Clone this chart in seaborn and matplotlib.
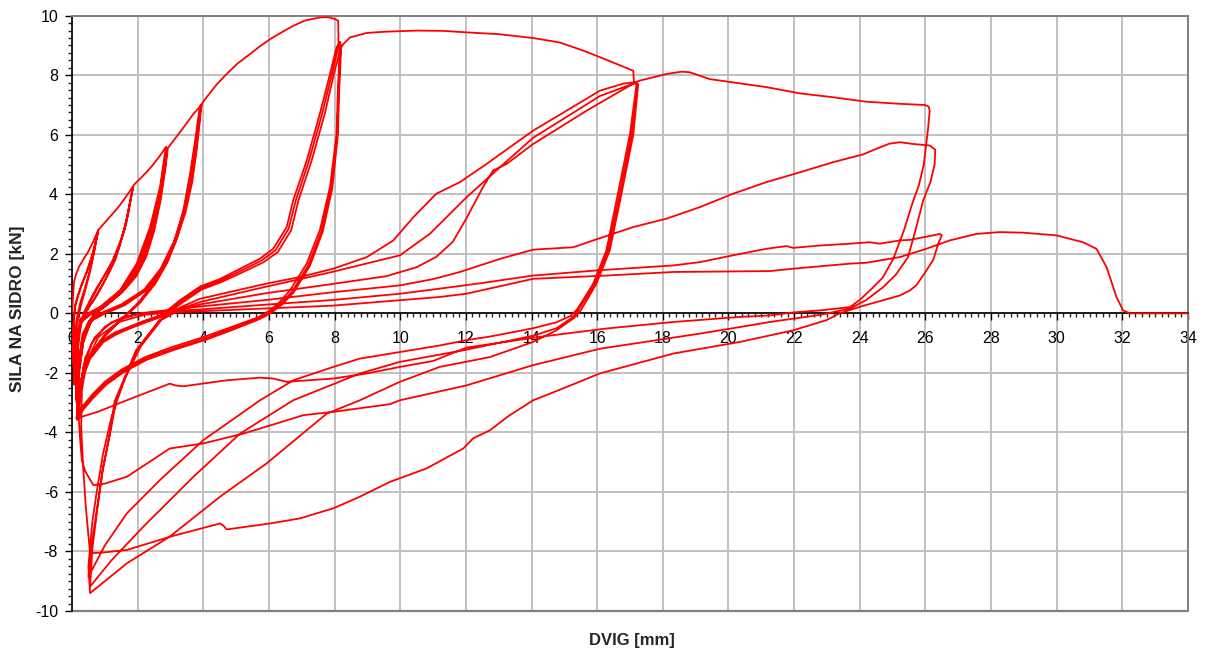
import matplotlib
matplotlib.use("Agg")
import matplotlib.pyplot as plt
import pandas as pd
import seaborn as sns
from matplotlib.ticker import MultipleLocator

# Anchor pull-out test: force vs. lift, recorded as a continuous trace of
# (displacement [mm], force [kN]) points, grouped by loading stage.

stage_08 = [
    (0.00, 0.00), (0.03, 0.50), (0.06, 1.05), (0.12, 1.30), (0.22, 1.58), (0.35, 1.82),
    (0.50, 2.08), (0.65, 2.42), (0.80, 2.80),
    (0.74, 2.50), (0.62, 1.95), (0.45, 1.40), (0.30, 1.00), (0.18, 0.60), (0.10, 0.30),
    (0.06, -0.20), (0.04, -0.60), (0.04, -1.20), (0.05, -1.70),
    (0.08, -0.90), (0.14, -0.20), (0.25, 0.35), (0.38, 0.80), (0.52, 1.35), (0.66, 2.00), (0.79, 2.75),
    (0.73, 2.45), (0.60, 1.90), (0.44, 1.35), (0.28, 0.90), (0.16, 0.50), (0.09, 0.20),
    (0.05, -0.30), (0.04, -1.00), (0.05, -1.80),
    (0.09, -1.00), (0.16, -0.30), (0.28, 0.30), (0.42, 0.85), (0.56, 1.45), (0.68, 2.10), (0.80, 2.80),
]

stage_19 = [
    (1.00, 3.05), (1.20, 3.30), (1.40, 3.55), (1.60, 3.85), (1.85, 4.25),
    (1.78, 3.80), (1.62, 2.90), (1.45, 2.25), (1.32, 1.80), (1.10, 1.30), (0.91, 0.90), (0.70, 0.50),
    (0.51, 0.20), (0.35, -0.10), (0.20, -0.50), (0.10, -1.00), (0.07, -1.70), (0.06, -2.30),
    (0.10, -1.40), (0.20, -0.60), (0.35, 0.00), (0.55, 0.45), (0.75, 0.85), (0.95, 1.20), (1.20, 1.65),
    (1.45, 2.30), (1.65, 3.00), (1.85, 4.20),
    (1.77, 3.75), (1.60, 2.85), (1.42, 2.20), (1.28, 1.75), (1.06, 1.25), (0.87, 0.85), (0.66, 0.45),
    (0.48, 0.15), (0.32, -0.15), (0.18, -0.55), (0.10, -1.10), (0.07, -1.80), (0.07, -2.40),
    (0.11, -1.50), (0.22, -0.60), (0.38, 0.00), (0.58, 0.45), (0.80, 0.90), (1.00, 1.30), (1.25, 1.80),
    (1.50, 2.50), (1.70, 3.30), (1.87, 4.30),
]

stage_29 = [
    (2.05, 4.50), (2.25, 4.72), (2.45, 4.97), (2.65, 5.25), (2.87, 5.60),
    (2.83, 5.36), (2.68, 4.24), (2.38, 2.90), (1.97, 1.67), (1.46, 0.77), (0.85, 0.21), (0.45, -0.02),
    (0.24, -0.20), (0.16, -1.00), (0.13, -2.00), (0.12, -2.80),
    (0.18, -1.80), (0.30, -0.90), (0.50, -0.30), (0.80, 0.15), (1.20, 0.50), (1.60, 0.90), (1.90, 1.30),
    (2.20, 1.95), (2.45, 2.80), (2.65, 3.80), (2.80, 4.80), (2.88, 5.55),
    (2.84, 5.30), (2.70, 4.20), (2.40, 2.85), (2.00, 1.62), (1.50, 0.74), (0.90, 0.20), (0.50, -0.04),
    (0.26, -0.25), (0.17, -1.10), (0.14, -2.10), (0.13, -2.90),
    (0.19, -1.90), (0.32, -0.95), (0.52, -0.32), (0.82, 0.13), (1.22, 0.48), (1.62, 0.88), (1.93, 1.28),
    (2.23, 1.92), (2.48, 2.78), (2.68, 3.80), (2.83, 4.85), (2.90, 5.50),
    (2.86, 5.30), (2.72, 4.20), (2.43, 2.85), (2.03, 1.60), (1.55, 0.72), (0.95, 0.18), (0.55, -0.05),
    (0.28, -0.30), (0.18, -1.20), (0.15, -2.20), (0.14, -3.00),
    (0.20, -2.00), (0.34, -1.00), (0.55, -0.35), (0.85, 0.10), (1.25, 0.45), (1.65, 0.85), (1.96, 1.25),
    (2.26, 1.90), (2.50, 2.75), (2.70, 3.80), (2.85, 4.90), (2.92, 5.55),
]

stage_39 = [
    (3.09, 5.80), (3.30, 6.10), (3.50, 6.40), (3.70, 6.70), (3.90, 6.95),
    (3.86, 6.50), (3.75, 5.50), (3.60, 4.40), (3.40, 3.40), (3.10, 2.40), (2.70, 1.50), (2.20, 0.80),
    (1.50, 0.30), (0.90, 0.02), (0.55, -0.20), (0.32, -0.70), (0.20, -1.80), (0.16, -2.90), (0.15, -3.40),
    (0.20, -2.90), (0.30, -2.14), (0.51, -1.47), (0.91, -0.85), (1.40, -0.30), (1.97, 0.30), (2.45, 0.95),
    (2.85, 1.65), (3.15, 2.50), (3.40, 3.50), (3.60, 4.70), (3.75, 5.80), (3.85, 6.60), (3.92, 7.00),
    (3.88, 6.50), (3.78, 5.50), (3.63, 4.40), (3.43, 3.40), (3.13, 2.40), (2.74, 1.50), (2.25, 0.80),
    (1.55, 0.28), (0.95, 0.00), (0.58, -0.22), (0.34, -0.75), (0.21, -1.90), (0.17, -2.95), (0.15, -3.45),
    (0.21, -2.85), (0.32, -2.05), (0.55, -1.40), (0.95, -0.80), (1.45, -0.25), (2.02, 0.32), (2.50, 0.98),
    (2.88, 1.70), (3.18, 2.55), (3.43, 3.55), (3.63, 4.75), (3.78, 5.85), (3.88, 6.65), (3.94, 7.02),
    (3.90, 6.50), (3.80, 5.50), (3.66, 4.40), (3.46, 3.40), (3.16, 2.40), (2.78, 1.50), (2.30, 0.80),
    (1.60, 0.27), (1.00, -0.01), (0.60, -0.24), (0.36, -0.80), (0.22, -2.00), (0.17, -3.00), (0.15, -3.50),
    (0.22, -2.80), (0.34, -2.00), (0.58, -1.35), (1.00, -0.75), (1.50, -0.22), (2.06, 0.34), (2.54, 1.00),
    (2.92, 1.74), (3.22, 2.60), (3.46, 3.60), (3.66, 4.80), (3.80, 5.90), (3.90, 6.70), (3.96, 7.05),
]

stage_81 = [
    (4.10, 7.26), (4.40, 7.68), (4.71, 8.04), (5.05, 8.40), (5.42, 8.71), (5.70, 8.95), (6.03, 9.21),
    (6.40, 9.45), (6.74, 9.66), (7.10, 9.84), (7.55, 9.94), (7.80, 9.95), (8.01, 9.89), (8.11, 9.83),
    (8.12, 9.05),
    (8.16, 8.94), (8.10, 7.50), (8.06, 6.03), (7.86, 4.24), (7.55, 2.79), (7.15, 1.67), (6.64, 0.77),
    (6.30, 0.35), (6.03, 0.10), (5.80, -0.05), (5.63, -0.15),
    (4.80, -0.48), (4.00, -0.80), (3.00, -1.15), (2.23, -1.47), (1.52, -1.88), (1.00, -2.30), (0.60, -2.75),
    (0.30, -3.15), (0.14, -3.53),
    (0.20, -2.92), (0.30, -2.14), (0.51, -1.47), (0.91, -0.91), (1.30, -0.65), (1.72, -0.46), (2.20, -0.25),
    (2.74, -0.05), (3.30, 0.45), (3.90, 0.90), (4.50, 1.15), (5.02, 1.44), (5.73, 1.84), (6.13, 2.17),
    (6.54, 2.90), (6.74, 3.80), (7.15, 5.13), (7.55, 6.70), (7.86, 8.04), (8.06, 8.94), (8.12, 9.05),
    (8.18, 8.90), (8.12, 7.50), (8.08, 6.00), (7.90, 4.20), (7.60, 2.75), (7.20, 1.62), (6.70, 0.72),
    (6.35, 0.32), (6.08, 0.08), (5.85, -0.07), (5.66, -0.18),
    (4.85, -0.52), (4.05, -0.85), (3.05, -1.20), (2.25, -1.52), (1.55, -1.93), (1.02, -2.35), (0.62, -2.80),
    (0.32, -3.20), (0.15, -3.55),
    (0.21, -2.95), (0.31, -2.18), (0.53, -1.50), (0.93, -0.94), (1.33, -0.67), (1.75, -0.48), (2.24, -0.27),
    (2.78, -0.06), (3.33, 0.40), (3.92, 0.85), (4.52, 1.10), (5.05, 1.38), (5.78, 1.78), (6.20, 2.12),
    (6.60, 2.85), (6.82, 3.80), (7.22, 5.13), (7.62, 6.70), (7.92, 8.04), (8.12, 8.98), (8.17, 9.12),
    (8.20, 8.92), (8.14, 7.50), (8.10, 6.00), (7.93, 4.20), (7.64, 2.75), (7.25, 1.60), (6.75, 0.70),
    (6.40, 0.30), (6.12, 0.06), (5.90, -0.09), (5.70, -0.20),
    (4.90, -0.55), (4.10, -0.88), (3.10, -1.23), (2.28, -1.56), (1.58, -1.97), (1.04, -2.40), (0.64, -2.85),
    (0.33, -3.25), (0.15, -3.58),
    (0.22, -2.98), (0.32, -2.20), (0.55, -1.53), (0.95, -0.97), (1.36, -0.70), (1.78, -0.50), (2.28, -0.29),
    (2.82, -0.08), (3.36, 0.36), (3.95, 0.80), (4.55, 1.05), (5.10, 1.33), (5.84, 1.72), (6.27, 2.06),
    (6.68, 2.80), (6.90, 3.80), (7.30, 5.13), (7.70, 6.70), (7.98, 8.04), (8.18, 8.90), (8.27, 9.05),
    (8.47, 9.27), (8.98, 9.42), (9.50, 9.46), (10.50, 9.50), (11.30, 9.49), (12.02, 9.44), (13.00, 9.38),
    (14.05, 9.25), (14.86, 9.10), (15.57, 8.83), (16.10, 8.60), (16.59, 8.38), (17.10, 8.15), (17.12, 7.76),
]

stage_17 = [
    (17.20, 7.70), (17.00, 6.03), (16.59, 3.79), (16.28, 2.11), (15.88, 1.00), (15.60, 0.50), (15.40, 0.15),
    (15.20, -0.08),
    (14.76, -0.30), (14.05, -0.50), (12.73, -0.78), (12.02, -0.90), (11.20, -1.08), (9.99, -1.30),
    (8.77, -1.52), (7.96, -1.80), (6.74, -2.25), (5.73, -2.92), (4.00, -4.26), (2.68, -5.60), (1.67, -6.72),
    (1.00, -7.80), (0.50, -8.85),
    (0.65, -7.39), (0.80, -6.28), (0.95, -5.16), (1.16, -4.04), (1.35, -2.92), (1.97, -1.24), (2.68, -0.23),
    (3.30, 0.20), (3.90, 0.49), (5.93, 1.00), (6.94, 1.22), (7.96, 1.50), (8.98, 1.89), (9.79, 2.45),
    (10.40, 3.23), (11.10, 4.02), (11.82, 4.41), (12.63, 5.02), (14.05, 6.14), (15.07, 6.81), (16.08, 7.48),
    (16.80, 7.72), (17.15, 7.76),
    (17.22, 7.68), (17.05, 6.00), (16.65, 3.80), (16.33, 2.10), (15.92, 0.98), (15.62, 0.45), (15.42, 0.10),
    (15.27, -0.12),
    (14.76, -0.50), (14.05, -0.75), (12.02, -1.22), (9.99, -1.63), (8.77, -2.02), (6.74, -2.92),
    (5.12, -4.04), (3.70, -5.49), (2.17, -7.17), (1.20, -8.30), (0.55, -9.18),
    (0.62, -7.90), (0.78, -6.50), (0.93, -5.30), (1.14, -4.10), (1.30, -2.95), (1.95, -1.25), (2.65, -0.25),
    (3.30, 0.15), (3.90, 0.38), (5.93, 0.90), (7.96, 1.40), (9.99, 1.95), (10.90, 2.67), (12.02, 3.90),
    (13.04, 4.91), (14.05, 5.90), (15.07, 6.60), (16.08, 7.30), (17.18, 7.75),
    (17.25, 7.70), (17.10, 6.00), (16.70, 3.80), (16.38, 2.10), (15.97, 0.98), (15.68, 0.44), (15.50, 0.10),
    (15.30, -0.15),
    (14.76, -0.57), (14.05, -0.96), (12.73, -1.47), (11.20, -1.80), (9.99, -2.30), (8.77, -2.92),
    (7.76, -3.37), (5.93, -5.04), (4.51, -6.16), (2.98, -7.50), (1.67, -8.40), (0.55, -9.40),
    (0.50, -8.50), (0.62, -7.00), (0.78, -5.80), (0.95, -4.70), (1.20, -3.50), (1.60, -2.20), (2.10, -1.10),
    (2.74, -0.20), (3.30, 0.12), (3.90, 0.30), (5.93, 0.68), (7.96, 0.99), (9.58, 1.25), (10.50, 1.55),
    (11.10, 1.90), (11.60, 2.40), (12.02, 3.20), (12.50, 4.20), (12.83, 4.80), (13.24, 5.02), (14.05, 5.69),
    (15.68, 6.81), (16.60, 7.40), (17.20, 7.78),
]

stage_26 = [
    (17.30, 7.82), (18.11, 8.04), (18.57, 8.12), (18.82, 8.10), (19.43, 7.87), (20.14, 7.76), (21.16, 7.60),
    (22.18, 7.39), (23.19, 7.26), (24.20, 7.11), (25.22, 7.04), (25.98, 7.00), (26.10, 6.95),
    (26.13, 6.80), (26.08, 6.20), (25.95, 5.00), (25.80, 4.30), (25.63, 3.79), (25.35, 2.80), (25.02, 1.83),
    (24.70, 1.20), (24.31, 0.77), (24.00, 0.45), (23.70, 0.21),
    (22.80, 0.10), (21.97, 0.03), (21.26, -0.07), (20.35, -0.12), (18.32, -0.29), (16.28, -0.51),
    (14.25, -0.79), (12.02, -1.15), (11.00, -1.60), (9.99, -1.80), (8.98, -2.02), (7.96, -2.19),
    (6.54, -2.30), (6.13, -2.19), (5.73, -2.16), (4.71, -2.25), (3.39, -2.45), (3.14, -2.42), (2.98, -2.36),
    (1.67, -2.92), (0.80, -3.30), (0.14, -3.53),
    (0.20, -2.80), (0.35, -1.80), (0.60, -1.00), (1.00, -0.45), (1.50, -0.15), (2.20, 0.02), (3.00, 0.12),
    (3.90, 0.23), (5.93, 0.45), (7.96, 0.71), (9.99, 0.94), (11.00, 1.15), (11.82, 1.39), (13.04, 1.83),
    (14.05, 2.14), (15.27, 2.22), (15.88, 2.45), (17.10, 2.90), (18.11, 3.18), (19.13, 3.57), (20.14, 4.02),
    (21.16, 4.41), (22.18, 4.74), (23.19, 5.08), (24.10, 5.34), (24.51, 5.53), (24.90, 5.70), (25.22, 5.75),
    (25.63, 5.69), (26.13, 5.64), (26.30, 5.50),
    (26.28, 5.00), (26.15, 4.40), (25.93, 3.79), (25.70, 2.80), (25.47, 1.89), (25.10, 1.30), (24.71, 0.88),
    (24.20, 0.45), (23.70, 0.16),
    (22.80, -0.05), (21.26, -0.29), (20.35, -0.46), (19.13, -0.68), (16.08, -1.19), (14.05, -1.74),
    (12.02, -2.42), (9.99, -2.92), (9.69, -3.05), (7.96, -3.31), (7.05, -3.42), (6.23, -3.70), (5.22, -4.04),
    (4.00, -4.37), (2.98, -4.54), (1.67, -5.49), (1.00, -5.72), (0.65, -5.77),
    (0.40, -5.30), (0.30, -4.93), (0.25, -4.26), (0.21, -3.60), (0.25, -2.50), (0.40, -1.50), (0.70, -0.80),
    (1.20, -0.30), (2.00, -0.02), (3.00, 0.08), (3.90, 0.13), (6.00, 0.30), (7.96, 0.45), (10.00, 0.66),
    (11.20, 0.83), (12.50, 1.02), (14.05, 1.27), (16.08, 1.45), (18.32, 1.61), (19.13, 1.72), (20.14, 1.95),
    (21.16, 2.17), (21.77, 2.26), (21.97, 2.20), (22.80, 2.28), (23.70, 2.34), (24.31, 2.39), (24.60, 2.34),
    (25.22, 2.45), (25.53, 2.47), (26.24, 2.62), (26.44, 2.67), (26.50, 2.62),
    (26.39, 2.34), (26.24, 1.80), (26.03, 1.44), (25.73, 0.95), (25.53, 0.77), (25.22, 0.60), (24.71, 0.44),
    (24.00, 0.22), (23.39, 0.00),
    (22.98, -0.23), (21.97, -0.57), (20.35, -0.96), (18.32, -1.35), (16.08, -2.02), (14.56, -2.70),
    (14.05, -2.92), (13.30, -3.45), (12.73, -3.93), (12.22, -4.20), (11.92, -4.54), (10.80, -5.21),
    (9.69, -5.66), (8.77, -6.16), (7.96, -6.55), (6.94, -6.89), (6.03, -7.06), (4.71, -7.26), (4.60, -7.12),
    (4.51, -7.06), (3.00, -7.50), (1.67, -7.95), (1.00, -8.03), (0.55, -8.06),
]

stage_final = [
    (0.42, -6.50), (0.33, -5.00), (0.28, -3.80), (0.30, -2.60), (0.45, -1.60), (0.80, -0.80), (1.40, -0.30),
    (2.20, -0.05), (3.00, 0.03), (3.90, 0.07), (7.96, 0.26), (11.20, 0.55), (12.02, 0.66), (14.05, 1.16),
    (16.28, 1.27), (18.32, 1.39), (21.26, 1.42), (21.97, 1.50), (23.70, 1.67), (24.20, 1.70), (25.22, 1.89),
    (26.03, 2.17), (26.74, 2.45), (27.56, 2.67), (28.27, 2.73), (28.98, 2.71), (29.99, 2.62), (30.80, 2.39),
    (31.21, 2.17), (31.52, 1.55), (31.82, 0.55), (32.02, 0.10), (32.23, 0.00), (34.00, 0.00),
]

x_ticks = list(range(0, 35, 2))
y_ticks = list(range(-10, 11, 2))
x_title = "DVIG [mm]"
y_title = "SILA NA SIDRO [kN]"

sns.set_style("white")
plt.rcParams["font.family"] = ["Liberation Sans", "DejaVu Sans"]
plt.rcParams["axes.unicode_minus"] = False

stages = [stage_08, stage_19, stage_29, stage_39, stage_81, stage_17, stage_26, stage_final]
trace = pd.DataFrame([p for s in stages for p in s], columns=["disp", "force"])

W, H = 1205, 653
fig = plt.figure(figsize=(W / 100, H / 100), dpi=100)
ax = fig.add_axes([72 / W, 1 - 611 / H, (1188 - 72) / W, (611 - 15.7) / H])

sns.lineplot(data=trace, x="disp", y="force", sort=False, estimator=None,
             color="#ff0000", lw=1.3, ax=ax, zorder=3)
for ln in ax.lines:
    ln.set_solid_joinstyle("round")
    ln.set_solid_capstyle("round")

ax.set_xlim(0, 34)
ax.set_ylim(-10, 10)
ax.set_xticks(x_ticks)
ax.set_yticks(y_ticks)
ax.xaxis.set_minor_locator(MultipleLocator(0.2))
ax.yaxis.set_minor_locator(MultipleLocator(0.25))
ax.set_xlabel("")
ax.set_ylabel("")

ax.grid(True, which="major", color="#c0c0c0", lw=1.4)
ax.set_axisbelow(True)

ax.spines["bottom"].set_position(("data", 0))
ax.spines["bottom"].set_color("black")
ax.spines["bottom"].set_linewidth(1.2)
ax.spines["bottom"].set_zorder(2.6)
ax.spines["left"].set_color("black")
ax.spines["left"].set_linewidth(1.2)
for side in ("top", "right"):
    ax.spines[side].set_color("#808080")
    ax.spines[side].set_linewidth(1.4)
ax.axhline(-10, color="#808080", lw=1.6, clip_on=False, zorder=2.5)

ax.tick_params(axis="x", which="major", direction="out", length=5, width=1,
               pad=8, labelsize=11.5, colors="black", bottom=True)
ax.tick_params(axis="x", which="minor", direction="out", length=3, width=1, bottom=True)
ax.tick_params(axis="y", which="major", direction="out", length=5, width=1,
               pad=5, labelsize=11.5, colors="black", left=True)
ax.tick_params(axis="y", which="minor", direction="out", length=3, width=1, left=True)

fig.text(632 / W, 1 - 640 / H, x_title, ha="center", va="center",
         fontsize=12, fontweight="bold")
fig.text(18 / W, 1 - 309 / H, y_title, ha="center", va="center",
         rotation=90, fontsize=12.5, fontweight="bold")

fig.savefig("out.png", dpi=100)
